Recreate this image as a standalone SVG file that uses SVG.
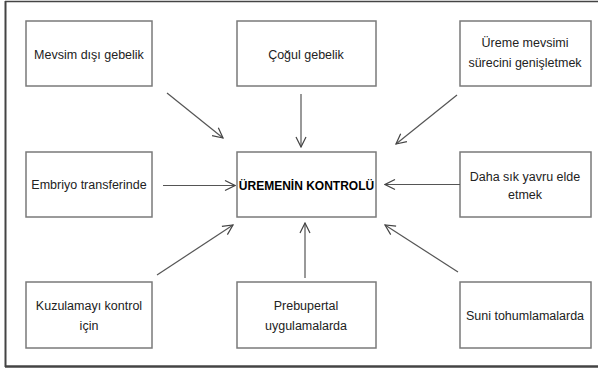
<svg xmlns="http://www.w3.org/2000/svg" width="598" height="369" viewBox="0 0 598 369">
<defs>
<marker id="ah" viewBox="0 0 12 12" refX="11" refY="6" markerWidth="12" markerHeight="12" markerUnits="userSpaceOnUse" orient="auto">
<polyline points="1,1 11,6 1,11" fill="none" stroke="#444" stroke-width="1.2"/>
</marker>
<style>
.box{fill:#fff;stroke:#7a7a7a;stroke-width:1.5}
.t{font-family:"Liberation Sans",Arial,sans-serif;font-size:12.5px;fill:#222;text-anchor:middle}
.b{font-weight:bold;font-size:12px;fill:#000}
.c{stroke:#555;stroke-width:1.2;fill:none;marker-end:url(#ah)}
</style>
</defs>
<rect width="598" height="369" fill="#fff"/>
<g id="frame" fill="none" stroke="#444">
<line x1="5" y1="1.5" x2="598" y2="1.5" stroke-width="1.5"/>
<line x1="5.5" y1="1" x2="5.5" y2="367" stroke-width="2"/>
<line x1="5" y1="366.5" x2="598" y2="366.5" stroke-width="2.5"/>
</g>
<g id="n1"><rect class="box" x="26" y="21" width="126" height="65"/><text class="t" x="89" y="59">Mevsim dışı gebelik</text></g>
<g id="n2"><rect class="box" x="237" y="21" width="139" height="65"/><text class="t" x="306" y="59">Çoğul gebelik</text></g>
<g id="n3"><rect class="box" x="460" y="21" width="131" height="65"/><text class="t" x="525" y="47">Üreme mevsimi</text><text class="t" x="525" y="67">sürecini genişletmek</text></g>
<g id="n4"><rect class="box" x="26" y="152" width="126" height="65"/><text class="t" x="89" y="189">Embriyo transferinde</text></g>
<g id="center"><rect class="box" x="237" y="152" width="139" height="65"/><text class="t b" x="306.5" y="190">ÜREMENİN KONTROLÜ</text></g>
<g id="n5"><rect class="box" x="460" y="152" width="131" height="65"/><text class="t" x="525" y="181">Daha sık yavru elde</text><text class="t" x="525" y="199">etmek</text></g>
<g id="n6"><rect class="box" x="26" y="282" width="126" height="66"/><text class="t" x="89" y="310">Kuzulamayı kontrol</text><text class="t" x="89" y="330">için</text></g>
<g id="n7"><rect class="box" x="237" y="282" width="139" height="66"/><text class="t" x="306" y="310">Prebupertal</text><text class="t" x="306" y="330">uygulamalarda</text></g>
<g id="n8"><rect class="box" x="460" y="282" width="131" height="66"/><text class="t" x="525" y="320">Suni tohumlamalarda</text></g>
<g id="connectors">
<line class="c" x1="167" y1="93" x2="223" y2="138"/>
<line class="c" x1="301" y1="94" x2="301" y2="147"/>
<line class="c" x1="457" y1="95" x2="396" y2="144"/>
<line class="c" x1="163" y1="185.5" x2="235" y2="185.5"/>
<line class="c" x1="460" y1="184.5" x2="385" y2="184.5"/>
<line class="c" x1="157" y1="275" x2="233" y2="225"/>
<line class="c" x1="305" y1="278" x2="305" y2="223"/>
<line class="c" x1="458" y1="272" x2="385" y2="225"/>
</g>
</svg>
